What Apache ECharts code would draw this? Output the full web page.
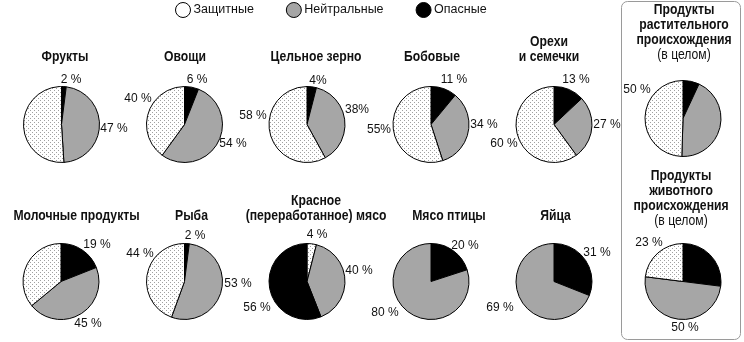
<!DOCTYPE html>
<html><head><meta charset="utf-8">
<script src="https://cdn.jsdelivr.net/npm/echarts@6/dist/echarts.min.js"></script>
<style>html,body{margin:0;padding:0;background:#fff}#c{width:744px;height:342px}</style>
</head><body><div id="c"></div>
<script>
// ---- data ----
const categories = ['Фрукты','Овощи','Цельное зерно','Бобовые','Орехи\nи семечки','Продукты\nрастительного\nпроисхождения\n{n|(в целом)}',
  'Молочные продукты','Рыба','Красное\n(переработанное) мясо','Мясо птицы','Яйца','Продукты\nживотного\nпроисхождения\n{n|(в целом)}'];
const groups = ['Защитные','Нейтральные','Опасные'];
const protective = [51,40,58,55,60,50, 36,44,4,0,0,23];
const neutral    = [47,54,38,34,27,44, 45,53,40,80,69,50];
const dangerous  = [2,6,4,11,13,7, 19,2,56,20,31,27];
const labelText  = [
  ['51 %','47 %','2 %'],['40 %','54 %','6 %'],['58 %','38%','4%'],['55%','34 %','11 %'],['60 %','27 %','13 %'],['50 %','44 %','7 %'],
  ['36 %','45 %','19 %'],['44 %','53 %','2 %'],['4 %','40 %','56 %'],['','80 %','20 %'],['','69 %','31 %'],['23 %','50 %','27 %']];

// ---- layout (not data) ----
const centers = [[61.5,124.5],[184.5,124.5],[307,124.5],[431,124.5],[554,124.5],[683,118.5],
                 [61,281.5],[184.5,281.5],[307,281.5],[431,281.5],[554,281.5],[683,281.5]];
// label centre positions (px) per pie: [protective, neutral, dangerous]
const labelPos = [
  [[12,105],[114,129],[71,80]],
  [[138,99],[233,144],[197,80]],
  [[253,116],[357,110],[318,81]],
  [[379,130],[484,125],[454,80]],
  [[504,144],[607,125],[576,80]],
  [[637,90],[731,136],[697,74]],
  [[12,259],[88,324],[97,245]],
  [[140,254],[238,284],[195,236]],
  [[317,235],[359,271],[257,308]],
  [[0,0],[385,313],[465,246]],
  [[0,0],[500,308],[597,253]],
  [[649,243],[685,328],[725,248]]];
// title anchor: x centre, y bottom of last line
const titlePos = [[65,64.5],[185,64.5],[316,64.5],[432,64.5],[549,64.5],[684,62.5],
                  [76.5,223.5],[191.5,223.5],[316,223.5],[449,223.5],[555.5,223.5],[681,228.5]];
// slice order clockwise from 12 o'clock: indices into [protective, neutral, dangerous]
const orders = categories.map((c,i)=> i===8 ? [0,1,2] : [2,1,0]);

// dotted pattern
const pc = document.createElement('canvas'); pc.width = 4; pc.height = 4;
const g = pc.getContext('2d'); g.fillStyle = '#fff'; g.fillRect(0,0,4,4);
g.fillStyle = '#a0a0a0'; g.fillRect(0,0,1,1); g.fillRect(2,2,1,1);
const colors = [{image: pc, repeat: 'repeat'}, '#a6a6a6', '#000000'];

const FONT = "'Liberation Sans',Arial,sans-serif";
const vals = [protective, neutral, dangerous];

const series = categories.map((cat, i) => ({
  type: 'pie', name: 'p' + i, center: centers[i], radius: 38, startAngle: 90, clockwise: true,
  animation: false, silent: true, legendHoverLink: false,
  itemStyle: {borderColor: '#000', borderWidth: 1},
  labelLine: {show: false},
  label: {show: true, position: 'outside', fontFamily: FONT, fontSize: 12, color: '#111',
          formatter: p => labelText[i][p.data.k]},
  labelLayout: p => { const k = series[i].data[p.dataIndex].k; const pos = labelPos[i][k];
    return {x: pos[0], y: pos[1], align: 'center', verticalAlign: 'middle'}; },
  data: orders[i].filter(k => vals[k][i] > 0).map(k => ({
    name: groups[k], value: vals[k][i], k: k, itemStyle: {color: colors[k]}}))
}));

const titles = categories.map((c, i) => ({
  type: 'text', x: titlePos[i][0], y: titlePos[i][1], scaleX: 0.87, silent: true,
  style: {text: c, font: "bold 14px " + FONT, fill: '#111', align: 'center', verticalAlign: 'bottom',
    lineHeight: 15, rich: {n: {font: "14px " + FONT, fill: '#111', lineHeight: 15}}}
}));

const chart = echarts.init(document.getElementById('c'), null, {renderer: 'canvas'});
chart.setOption({
  animation: false,
  legend: {
    data: [{name: groups[0], itemStyle: {color: '#fff'}}, {name: groups[1], itemStyle: {color: '#a6a6a6'}}, {name: groups[2], itemStyle: {color: '#000'}}],
    icon: 'circle', left: 175, top: 2, padding: 0, itemWidth: 15, itemHeight: 15, itemGap: 32,
    itemStyle: {borderColor: '#000', borderWidth: 1},
    textStyle: {fontFamily: FONT, fontSize: 12.5, color: '#111', padding: [1,0,0,-2]},
    selectedMode: false
  },
  graphic: [{type: 'rect', shape: {x: 621.5, y: 1.5, width: 119, height: 338, r: 6},
    style: {fill: 'none', stroke: '#9a9a9a', lineWidth: 1}, silent: true}].concat(titles),
  series: series
});
</script></body></html>
